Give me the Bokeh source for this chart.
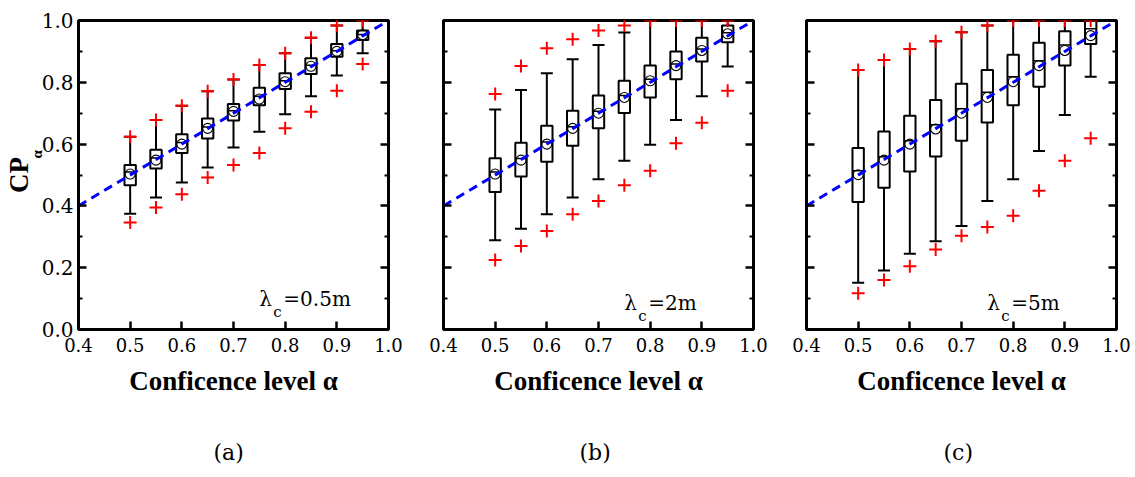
import math
from bokeh.plotting import figure
from bokeh.layouts import row
from bokeh.models import (FixedTicker, PrintfTickFormatter, Label, LinearAxis,
                          Range1d, ColumnDataSource, Whisker, TeeHead, Title)
from bokeh.embed import file_html
from bokeh.resources import INLINE

# ---------------- data ----------------
alpha = [0.50, 0.55, 0.60, 0.65, 0.70, 0.75, 0.80, 0.85, 0.90, 0.95]
ref_x = [0.4, 1.0]
ref_y = [0.4, 1.0]

x_ticks = [0.4, 0.5, 0.6, 0.7, 0.8, 0.9, 1.0]
y_ticks = [0.0, 0.2, 0.4, 0.6, 0.8, 1.0]
y_minor = [0.1, 0.3, 0.5, 0.7, 0.9]

# panel (a) lambda_c = 0.5 m
a_max = [0.624, 0.678, 0.724, 0.771, 0.809, 0.856, 0.894, 0.944, 0.984, 1.000]
a_whi = [0.624, 0.678, 0.724, 0.771, 0.809, 0.856, 0.894, 0.944, 0.984, 1.000]
a_q3 = [0.532, 0.582, 0.632, 0.683, 0.730, 0.782, 0.829, 0.878, 0.924, 0.968]
a_med = [0.510, 0.555, 0.605, 0.655, 0.708, 0.755, 0.805, 0.855, 0.902, 0.955]
a_mean = [0.503, 0.548, 0.600, 0.651, 0.706, 0.746, 0.802, 0.852, 0.900, 0.954]
a_q1 = [0.467, 0.521, 0.571, 0.618, 0.676, 0.726, 0.778, 0.827, 0.883, 0.937]
a_wlo = [0.375, 0.427, 0.476, 0.524, 0.589, 0.640, 0.697, 0.755, 0.822, 0.894]
a_min = [0.346, 0.395, 0.438, 0.492, 0.532, 0.571, 0.651, 0.705, 0.773, 0.859]

# panel (b) lambda_c = 2 m
b_max = [0.762, 0.853, 0.910, 0.939, 0.968, 0.984, 1.000, 1.000, 1.000, 1.000]
b_whi = [0.712, 0.775, 0.829, 0.875, 0.921, 0.961, 1.000, 1.000, 1.000, 1.000]
b_q3 = [0.554, 0.604, 0.659, 0.708, 0.757, 0.805, 0.854, 0.900, 0.944, 0.984]
b_med = [0.510, 0.553, 0.607, 0.656, 0.706, 0.757, 0.810, 0.859, 0.908, 0.960]
b_mean = [0.503, 0.548, 0.600, 0.651, 0.700, 0.751, 0.805, 0.854, 0.903, 0.957]
b_q1 = [0.445, 0.495, 0.543, 0.595, 0.651, 0.701, 0.751, 0.810, 0.867, 0.930]
b_wlo = [0.289, 0.326, 0.373, 0.427, 0.486, 0.546, 0.598, 0.678, 0.755, 0.851]
b_min = [0.225, 0.270, 0.319, 0.373, 0.416, 0.467, 0.514, 0.603, 0.669, 0.773]

# panel (c) lambda_c = 5 m
c_max = [0.840, 0.872, 0.908, 0.933, 0.962, 0.984, 1.000, 1.000, 1.000, 1.000]
c_whi = [0.840, 0.872, 0.908, 0.933, 0.962, 0.984, 1.000, 1.000, 1.000, 1.000]
c_q3 = [0.587, 0.641, 0.692, 0.743, 0.795, 0.840, 0.889, 0.928, 0.965, 0.998]
c_med = [0.514, 0.559, 0.611, 0.663, 0.714, 0.768, 0.818, 0.870, 0.921, 0.973]
c_mean = [0.501, 0.548, 0.600, 0.649, 0.700, 0.751, 0.802, 0.854, 0.903, 0.951]
c_q1 = [0.413, 0.459, 0.511, 0.560, 0.611, 0.670, 0.726, 0.786, 0.854, 0.924]
c_wlo = [0.151, 0.191, 0.245, 0.286, 0.335, 0.416, 0.486, 0.578, 0.694, 0.818]
c_min = [0.117, 0.160, 0.205, 0.259, 0.303, 0.332, 0.368, 0.449, 0.546, 0.619]

lam_texts = ["=0.5m", "=2m", "=5m"]
captions = ["(a)", "(b)", "(c)"]
x_title = "Conficence level \u03b1"
y_title = "CP"
y_title_sub = "\u00a0" * 11 + "\u03b1"

REG_FONT = "DejaVu Serif"
BOLD_FONT = "Liberation Serif"


def style_axis(ax, ticker, labels=True, minor=False, size="18px"):
    ax.ticker = ticker
    ax.formatter = PrintfTickFormatter(format="%.1f")
    ax.axis_line_color = None
    ax.major_tick_in = 8
    ax.major_tick_out = 0
    ax.major_tick_line_width = 2.5
    ax.major_tick_line_color = "black"
    ax.minor_tick_in = 4 if minor else 0
    ax.minor_tick_out = 0
    ax.minor_tick_line_width = 2
    ax.minor_tick_line_color = "black" if minor else None
    ax.major_label_text_font = REG_FONT
    ax.major_label_text_font_style = "normal"
    ax.major_label_text_color = "black"
    if not labels:
        ax.major_label_overrides = {t: " " for t in y_ticks}
    ax.major_label_text_font_size = size


def make_panel(idx, vmax, whi, q3, med, mean, q1, wlo, vmin, lam_y,
               bl, br, ylabels, cap_offset):
    p = figure(frame_width=310, frame_height=309,
               min_border_left=bl, min_border_right=br,
               min_border_top=20, min_border_bottom=148,
               x_range=Range1d(0.4, 1.0), y_range=Range1d(0.0, 1.0),
               output_backend="svg", toolbar_location=None)
    p.xgrid.visible = False
    p.ygrid.visible = False
    p.outline_line_color = "black"
    p.outline_line_width = 3
    p.outline_line_alpha = 1.0
    p.background_fill_color = "white"
    p.border_fill_color = "white"

    style_axis(p.xaxis[0], FixedTicker(ticks=x_ticks, minor_ticks=[]))
    p.xaxis[0].major_label_standoff = 8
    p.xaxis[0].axis_label = x_title
    p.xaxis[0].axis_label_text_font = BOLD_FONT
    p.xaxis[0].axis_label_text_font_style = "bold"
    p.xaxis[0].axis_label_text_font_size = "27px"
    p.xaxis[0].axis_label_text_color = "black"
    p.xaxis[0].axis_label_standoff = 11

    style_axis(p.yaxis[0], FixedTicker(ticks=y_ticks, minor_ticks=y_minor),
               labels=ylabels, minor=True, size="20px" if ylabels else "18px")
    p.yaxis[0].major_label_standoff = 5 if ylabels else 3

    right = LinearAxis()
    style_axis(right, FixedTicker(ticks=y_ticks, minor_ticks=y_minor),
               labels=False, minor=True)
    p.add_layout(right, "right")

    src = ColumnDataSource(dict(x=alpha, vmax=vmax, whi=whi, q3=q3, med=med,
                                mean=mean, q1=q1, wlo=wlo, vmin=vmin))
    w = Whisker(source=src, base="x", upper="whi", lower="wlo",
                line_color="black", line_width=2,
                upper_head=TeeHead(size=12, line_width=2, line_color="black"),
                lower_head=TeeHead(size=12, line_width=2, line_color="black"))
    p.add_layout(w)
    p.vbar(x="x", width=0.022, top="q3", bottom="q1", source=src,
           fill_color="white", line_color="black", line_width=2)
    p.scatter(x="x", y="med", source=src, marker="dash", size=11,
              line_color="black", line_width=1.5)
    p.scatter(x="x", y="mean", source=src, marker="circle", size=10,
              fill_color=None, line_color="black", line_width=1.1)
    p.line(x=ref_x, y=ref_y, line_color="#0000ff", line_width=3,
           line_dash="9 6")
    p.scatter(x="x", y="vmax", source=src, marker="cross", size=13,
              line_color="red", line_width=2)
    p.scatter(x="x", y="vmin", source=src, marker="cross", size=13,
              line_color="red", line_width=2)

    # lambda_c label
    p.add_layout(Label(x=0.75, y=lam_y, text="\u03bb", text_font=REG_FONT,
                       text_font_size="20px", text_color="black",
                       text_baseline="alphabetic", text_align="left"))
    p.add_layout(Label(x=0.75, y=lam_y, x_offset=14, y_offset=-13, text="c",
                       text_font=REG_FONT, text_font_size="15px",
                       text_color="black", text_baseline="alphabetic",
                       text_align="left"))
    p.add_layout(Label(x=0.75, y=lam_y, x_offset=24, text=lam_texts[idx],
                       text_font=REG_FONT, text_font_size="20px",
                       text_color="black", text_baseline="alphabetic",
                       text_align="left"))
    # caption
    p.add_layout(Title(text=captions[idx], align="left", text_font=REG_FONT,
                       text_font_size="22px", text_font_style="normal",
                       text_color="black", standoff=79, offset=cap_offset),
                 "below")
    return p


pa = make_panel(0, a_max, a_whi, a_q3, a_med, a_mean, a_q1, a_wlo, a_min,
                0.099, 77, 27, True, 135)
pb = make_panel(1, b_max, b_whi, b_q3, b_med, b_mean, b_q1, b_wlo, b_min,
                0.085, 28, 26, False, 136)
pc = make_panel(2, c_max, c_whi, c_q3, c_med, c_mean, c_q1, c_wlo, c_min,
                0.085, 27, 20, False, 137)

# y-axis title CP_alpha on panel (a): subscript on the inner axis, CP on an
# outer label-only axis
ya = pa.yaxis[0]
ya.axis_label = y_title_sub
ya.axis_label_text_font = BOLD_FONT
ya.axis_label_text_font_style = "bold"
ya.axis_label_text_font_size = "15px"
ya.axis_label_text_color = "black"
ya.axis_label_standoff = -6

cp_axis = LinearAxis(ticker=FixedTicker(ticks=[], minor_ticks=[]))
cp_axis.axis_line_color = None
cp_axis.major_tick_line_color = None
cp_axis.minor_tick_line_color = None
cp_axis.major_tick_in = 0
cp_axis.major_tick_out = 0
cp_axis.minor_tick_in = 0
cp_axis.minor_tick_out = 0
cp_axis.major_label_standoff = 0
cp_axis.axis_label = y_title
cp_axis.axis_label_text_font = BOLD_FONT
cp_axis.axis_label_text_font_style = "bold"
cp_axis.axis_label_text_font_size = "27px"
cp_axis.axis_label_text_color = "black"
cp_axis.axis_label_standoff = -8
pa.add_layout(cp_axis, "left")

layout = row(pa, pb, pc)
layout.spacing = 0
open("out.html", "w").write(file_html(layout, INLINE))
